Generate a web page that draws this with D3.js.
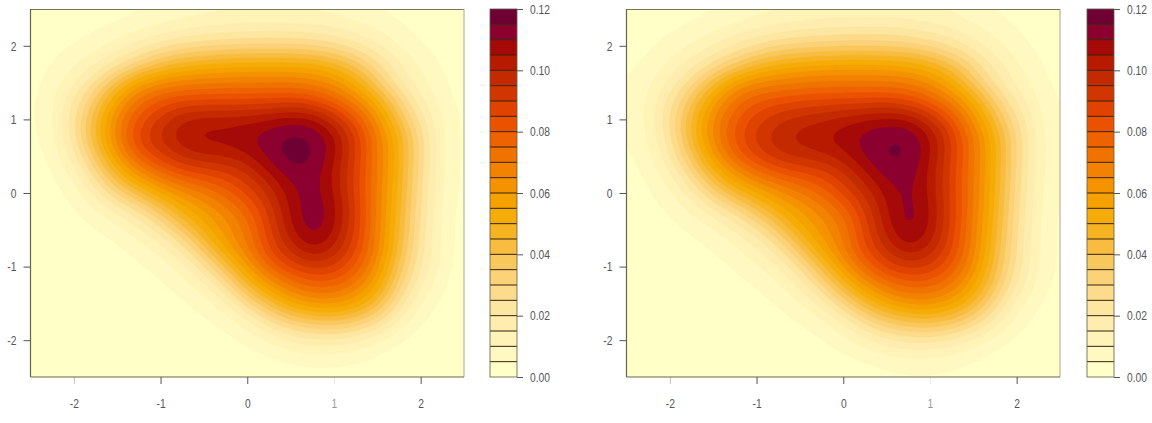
<!DOCTYPE html>
<html>
<head>
<meta charset="utf-8">
<script src="https://cdn.jsdelivr.net/npm/d3@7/dist/d3.min.js"></script>
<style>
  html, body { margin: 0; padding: 0; background: #fff; }
  svg { display: block; }
  text { font-family: "Liberation Sans", sans-serif; font-size: 13.5px; fill: #555; }
</style>
</head>
<body>
<svg id="chart" width="1152" height="423"></svg>
<script>
// Grid nodes of the two density surfaces
const gridX = d3.range(21).map(i => -2.5 + i * 0.25);
const gridY = d3.range(21).map(i => 2.5 - i * 0.25);

// Density in thousandths; rows run from y = 2.5 down to y = -2.5, columns from x = -2.5 to x = 2.5
const densityLeft = [
  [1,1,1.5,2,3,4,5,6,7,8,8,8,8,8,7,6,4.5,3,2,1,.5],
  [1,2,3,4,6,8,11,13,15,16,17,17,17,16,15,12,9,6,3.5,2,1],
  [2,3,5,8,12,17,22,26,28,29,30,30,30,29,26,21,15,9,5,3,1.5],
  [2.5,5,9,14,22,31,41,47,50,52,53,53,53,52,47,38,27,16,9,4.5,2],
  [3,6.5,14,25,42,58,65,68,69,70,70,70,70,68,63,53,35,20,11,5.5,2.5],
  [3.5,8,20,37,58,74,81,85,86,86,86,87,88,85,78,67,53,32,16,7,3],
  [3.5,8.5,23,44,67,82,92,101,103,103,104,106,109,108,96,82,63,41,22,9,3],
  [3,7.5,22,46,68,88,96,104,107,107,110,113,117,115,108,90,70,50,27,9.5,3],
  [2.5,6,17,37,61,79,89,97,100,101,104,112,118,116,107,89,70,50,27,9.5,3],
  [2,4,11,27,47,62,73,81,85,87,94,104,113,113,104,88,70,50,26,9,3],
  [1.5,3,6.5,16,31,43,55,63,70,78,86,96,108,113,106,88,69,48,25,8.5,3],
  [1,2,4,8.5,15,24,37,52,59,66,77,91,107,114,108,90,69,47,24,8,2.5],
  [.8,1.4,2.3,4.5,7.5,13,22,36,53,63,71,88,104,114,106,89,68,45,23,7.5,2.5],
  [.5,.8,1.3,2.3,4,7,12,21,38,58,69,86,97,107,100,86,68,43,22,7.5,2.2],
  [.3,.5,.8,1.3,2.2,4,7,12,23,41,60,76,87,92,90,80,63,38,20,7,2],
  [.2,.3,.5,.8,1.3,2.2,4,7,13,25,46,60,71,77,77,69,56,32,15,5.5,1.5],
  [.1,.2,.3,.5,.8,1.3,2.2,4,7,13,27,43,55,61,62,56,44,23,9,3.5,1],
  [.1,.1,.2,.3,.5,.8,1.3,2.2,4,6.5,12,23,32,37,39,35,26,13,5,2,.7],
  [0,.1,.1,.2,.3,.5,.8,1.2,2,3.2,6,10,15,18,18,15,10,5,2,1,.4],
  [0,0,.1,.1,.2,.3,.4,.6,1,1.5,2.5,4,6,7,7,6,4,2,1,.5,.2],
  [0,0,0,.1,.1,.2,.2,.3,.5,.7,1,1.5,2,2.5,2.5,2,1.3,.8,.4,.2,.1]
];
const densityRight = [
  [1,1.5,2,3,4,5.5,7,8,9,10,10,10,10,10,9,8,6,4,2.5,1.5,1],
  [1.5,2.5,4,6,8,11,14,16,18,19,20,20,20,19,17,15,11,8,5,3,1.5],
  [2.5,4,7,10,15,20,25,29,31,32,33,33,33,31,28,23,17,11,6.5,3.5,2],
  [3.5,6,11,17,25,34,44,50,53,55,56,56,55,54,49,40,29,18,11,5.5,2.5],
  [4.5,8.5,16,27,44,59,66,68,70,71,71,71,71,69,64,54,37,22,13,7,3],
  [5,10,22,39,58,73,80,83,85,86,87,87,88,85,78,68,55,34,19,9,3.5],
  [5,10.5,25,45,66,79,88,94,98,100,103,106,108,107,96,82,63,43,25,11,4],
  [4.5,9.5,23,46,66,82,92,99,102,105,108,112,115,115,107,90,71,51,29,12,4],
  [3.5,7.5,19,38,60,76,87,94,97,99,103,111,116,116,106,89,71,51,29,12,4],
  [3,5.5,13,28,47,62,71,79,83,86,93,104,112,113,104,88,71,51,28,11.5,3.5],
  [2,4,8.5,17,32,45,55,62,69,77,86,96,107,112,105,88,70,50,27,11,3.5],
  [1.5,3,5,10,17,26,38,52,59,66,76,90,105,113,106,89,70,49,26,10,3],
  [1,2,3.2,5.5,9,15,23,36,54,62,70,87,102,113,105,88,68,47,25,9.5,3],
  [.7,1.2,2,3.3,5,9,14,23,39,57,69,85,96,106,99,86,68,45,24,9.5,3],
  [.5,.8,1.2,2,3.2,5,9,14,25,43,61,76,87,92,90,80,64,42,23,9,3],
  [.3,.5,.8,1.3,2,3.2,5,9,16,28,47,61,72,77,77,70,57,37,19,8,2.5],
  [.2,.3,.5,.8,1.3,2,3.2,5,9,16,30,45,56,62,63,57,46,28,12,5,2],
  [.1,.2,.3,.5,.8,1.3,2,3.2,5,8,15,26,35,40,42,38,29,17,7.5,3,1.2],
  [0,.1,.2,.3,.5,.8,1.2,1.8,2.8,4.5,8,13,18,21,21,18,13,7.5,3.5,1.5,.7],
  [0,0,.1,.2,.3,.4,.6,.9,1.4,2.2,3.5,5.5,8,9,9,8,5.5,3,1.5,.7,.3],
  [0,0,0,.1,.1,.2,.3,.4,.6,.9,1.3,2,3,3.5,3.5,3,2,1.1,.6,.3,.1]
];

// Filled contour levels and their tick labels
const levelStep = 0.005;
const levels = d3.range(24).map(i => +(i * levelStep).toFixed(3));
const keyTicks = [0, 0.02, 0.04, 0.06, 0.08, 0.10, 0.12];
const axisTicks = [-2, -1, 0, 1, 2];

// One colour per band, lowest band first
const levelColors = [
  "#ffffc8","#fff8c0","#fff3b8","#feedae","#fde6a0","#fcdc8c",
  "#fbd277","#f9c85c","#f8bd40","#f7b422","#f6ac06","#f5a200",
  "#f49200","#f28200","#f07300","#ee6300","#eb5200","#e04200",
  "#d13600","#c42a00","#b81a00","#a50a08","#8c0030","#6e0034"
];

// Ticks that print faintly on the axis
const faintTicks = new Map([[-2, 0.3], [1, 0.12]]);

const panels = [
  { grid: densityLeft,  left: 30.5,  key: 490 },
  { grid: densityRight, left: 626.5, key: 1087 }
];
const plotWidth = 433.5, plotTop = 9, plotBottom = 377, keyWidth = 27;

const svg = d3.select("#chart");

// Refine a coarse grid with Catmull-Rom patches, then soften it so the bands run smoothly
function refine(rows, factor) {
  const n = rows.length, m = (n - 1) * factor + 1;
  const at = (r, c) => rows[Math.max(0, Math.min(n - 1, r))][Math.max(0, Math.min(n - 1, c))];
  const cr = (a, b, c, d, t) => b + 0.5 * t * (c - a + t * (2 * a - 5 * b + 4 * c - d + t * (3 * (b - c) + d - a)));
  const out = new Float64Array(m * m);
  for (let j = 0; j < m; j++) {
    const r0 = Math.min(Math.floor(j / factor), n - 2), tr = j / factor - r0;
    for (let i = 0; i < m; i++) {
      const c0 = Math.min(Math.floor(i / factor), n - 2), tc = i / factor - c0;
      const col = [-1, 0, 1, 2].map(k =>
        cr(at(r0 + k, c0 - 1), at(r0 + k, c0), at(r0 + k, c0 + 1), at(r0 + k, c0 + 2), tc));
      out[j * m + i] = cr(col[0], col[1], col[2], col[3], tr) / 1000;
    }
  }
  d3.blur2({ data: out, width: m, height: m }, factor / 2);
  return { data: Array.from(out), size: m };
}

// R-style labels are tall and narrow
function narrowLabels(sel) {
  sel.style("font-size", "13.5px").style("font-family", null).style("fill", "#555")
    .each(function () {
      this.setAttribute("lengthAdjust", "spacingAndGlyphs");
      this.setAttribute("textLength", (this.getComputedTextLength() * 0.76).toFixed(2));
    });
}

panels.forEach((p, idx) => {
  const x = d3.scaleLinear().domain([-2.5, 2.5]).range([p.left, p.left + plotWidth]);
  const y = d3.scaleLinear().domain([-2.5, 2.5]).range([plotBottom, plotTop]);
  const g = svg.append("g");

  const clipId = "plot-clip-" + idx;
  g.append("clipPath").attr("id", clipId).append("rect")
    .attr("x", p.left).attr("y", plotTop)
    .attr("width", plotWidth).attr("height", plotBottom - plotTop);

  // Density bands
  const factor = 8;
  const surface = refine(p.grid, factor);
  const span = d3.scaleLinear().domain([0.5, surface.size - 0.5]);
  const gx = span.copy().range([gridX[0], gridX[20]]);
  const gy = span.copy().range([gridY[0], gridY[20]]);
  const path = d3.geoPath(d3.geoTransform({
    point(a, b) { this.stream.point(x(gx(a)), y(gy(b))); }
  }));
  const bands = d3.contours().size([surface.size, surface.size]).thresholds(levels)(surface.data);

  const plot = g.append("g").attr("clip-path", `url(#${clipId})`);
  plot.append("rect")
    .attr("x", p.left).attr("y", plotTop)
    .attr("width", plotWidth).attr("height", plotBottom - plotTop)
    .attr("fill", levelColors[0]);
  plot.selectAll("path").data(bands).join("path")
    .attr("d", path)
    .attr("fill", (d, i) => levelColors[i])
    .attr("stroke", (d, i) => levelColors[i])
    .attr("stroke-width", 0.4);

  // Plot frame: heavier on the left and bottom
  const frame = g.append("g").attr("fill", "none");
  frame.append("line").attr("x1", p.left).attr("x2", p.left + plotWidth)
    .attr("y1", plotTop + 0.5).attr("y2", plotTop + 0.5).attr("stroke", "#77775a");
  frame.append("line").attr("x1", p.left + plotWidth).attr("x2", p.left + plotWidth)
    .attr("y1", plotTop).attr("y2", plotBottom).attr("stroke", "#a8a88e");
  frame.append("line").attr("x1", p.left).attr("x2", p.left)
    .attr("y1", plotTop).attr("y2", plotBottom).attr("stroke", "#66664f").attr("stroke-width", 1.2);
  frame.append("line").attr("x1", p.left).attr("x2", p.left + plotWidth)
    .attr("y1", plotBottom).attr("y2", plotBottom).attr("stroke", "#66664f").attr("stroke-width", 1.2);

  // Axes
  const bottom = g.append("g").attr("transform", `translate(0,${plotBottom})`)
    .call(d3.axisBottom(x).tickValues(axisTicks).tickSize(7).tickPadding(14).tickFormat(String));
  const left = g.append("g").attr("transform", `translate(${p.left},0)`)
    .call(d3.axisLeft(y).tickValues(axisTicks).tickSize(7).tickPadding(7).tickFormat(String));
  bottom.select(".domain").remove();
  left.select(".domain").remove();
  left.selectAll("line").attr("stroke", "#555");
  bottom.selectAll("line").attr("stroke", "#444")
    .attr("opacity", d => faintTicks.has(d) ? faintTicks.get(d) : 0.9);
  narrowLabels(bottom.selectAll("text"));
  narrowLabels(left.selectAll("text"));
  bottom.selectAll("text").attr("opacity", d => d === 1 ? 0.6 : 1);

  // Colour key with a dark rule between bands
  const keyY = d3.scaleLinear().domain([0, 0.12]).range([plotBottom, plotTop]);
  const key = g.append("g");
  key.selectAll("rect").data(levels).join("rect")
    .attr("x", p.key).attr("width", keyWidth)
    .attr("y", d => keyY(d + levelStep))
    .attr("height", d => keyY(d) - keyY(d + levelStep))
    .attr("fill", (d, i) => levelColors[i]);
  key.selectAll("line.rule").data(levels.slice(1)).join("line").attr("class", "rule")
    .attr("x1", p.key).attr("x2", p.key + keyWidth)
    .attr("y1", d => keyY(d)).attr("y2", d => keyY(d))
    .attr("stroke", "#33200e").attr("stroke-width", 1);
  key.append("rect").attr("x", p.key).attr("y", plotTop)
    .attr("width", keyWidth).attr("height", plotBottom - plotTop)
    .attr("fill", "none").attr("stroke", "#5c5c45").attr("stroke-width", 0.8);
  const keyAxis = g.append("g").attr("transform", `translate(${p.key + keyWidth},0)`)
    .call(d3.axisRight(keyY).tickValues(keyTicks).tickSize(6).tickPadding(7).tickFormat(d3.format(".2f")));
  keyAxis.select(".domain").remove();
  keyAxis.selectAll("line").attr("stroke", "#555");
  narrowLabels(keyAxis.selectAll("text"));
});
</script>
</body>
</html>
